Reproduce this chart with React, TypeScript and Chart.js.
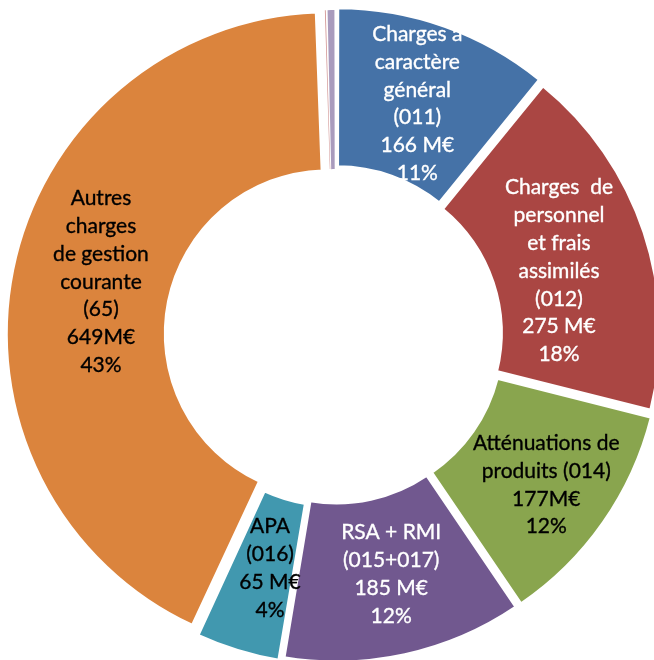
import { useEffect, useRef } from "react";
import { Chart, registerables } from "chart.js";

Chart.register(...registerables);

// ---- Data ----
const categories = [
  "Charges à caractère général (011)",
  "Charges de personnel et frais assimilés (012)",
  "Atténuations de produits (014)",
  "RSA + RMI (015+017)",
  "APA (016)",
  "Autres charges de gestion courante (65)",
  "Divers 1",
  "Divers 2",
  "Divers 3",
  "Divers 4",
];
const amountsMEur = [166, 275, 177, 185, 65, 649, 0.5, 1.5, 0.5, 6];

const labelLines: string[][] = [
  ["Charges à", "caractère", "général", "(011)", "166 M€", "11%"],
  ["Charges  de", "personnel", "et frais", "assimilés", "(012)", "275 M€", "18%"],
  ["Atténuations de", "produits (014)", "177M€", "12%"],
  ["RSA + RMI", "(015+017)", "185 M€", "12%"],
  ["APA", "(016)", "65 M€", "4%"],
  ["Autres", "charges", "de gestion", "courante", "(65)", "649M€", "43%"],
];

// ---- Styles ----
const sliceColors = [
  "#4572A7", "#AA4643", "#89A54E", "#71588F", "#4198AF", "#DB843D",
  "#93A9CF", "#D19392", "#B9CD96", "#A99BBD",
];
const sliceBorders = [3, 3, 3, 3, 3, 3, 0, 0, 0, 0];
// Chart.js translates arcs by offset/4 (x2 for very thin arcs)
const sliceOffsets = [28, 28, 28, 28, 28, 28, 14, 14, 14, 14];
const labelColors = ["#ffffff", "#ffffff", "#000000", "#ffffff", "#000000", "#000000"];
const labelAngleNudgeDeg = [0, 2.4, 0.4, -0.9, -1.6, 1.4];
const labelRadiusNudge = [0, -12.5, 13.5, 0, -3.5, -5.5];
const SHIFT_PX = 7;
const LINE_H = 27.9;

const labelPlugin = {
  id: "sliceLabels",
  afterDatasetsDraw(chart: any) {
    const ctx = chart.ctx;
    const meta = chart.getDatasetMeta(0);
    ctx.save();
    ctx.font = "21px Lato";
    ctx.textAlign = "center";
    ctx.textBaseline = "middle";
    meta.data.forEach((arc: any, i: number) => {
      const lines = labelLines[i];
      if (!lines) return;
      const p = arc.getProps(["x", "y", "startAngle", "endAngle", "innerRadius", "outerRadius"]);
      const mid = (p.startAngle + p.endAngle) / 2 + (labelAngleNudgeDeg[i] * Math.PI) / 180;
      const r = (p.innerRadius + p.outerRadius) / 2 + SHIFT_PX + labelRadiusNudge[i];
      const cx = p.x + Math.cos(mid) * r;
      const cy = p.y + Math.sin(mid) * r;
      ctx.fillStyle = labelColors[i];
      ctx.strokeStyle = labelColors[i];
      ctx.lineWidth = 0.35;
      lines.forEach((t, j) => {
        const ty = cy + (j - (lines.length - 1) / 2) * LINE_H;
        ctx.fillText(t, cx, ty);
        ctx.strokeText(t, cx, ty);
      });
    });
    ctx.restore();
  },
};

export default function App() {
  const ref = useRef<HTMLCanvasElement | null>(null);
  useEffect(() => {
    if (!ref.current) return;
    const chart = new Chart(ref.current, {
      type: "doughnut",
      data: {
        labels: categories,
        datasets: [
          {
            data: amountsMEur,
            backgroundColor: sliceColors,
            borderColor: "#ffffff",
            borderWidth: sliceBorders,
            offset: sliceOffsets,
          },
        ],
      },
      options: {
        animation: false,
        responsive: true,
        maintainAspectRatio: false,
        radius: 318,
        cutout: "50%",
        layout: { padding: 0 },
        plugins: {
          legend: { display: false },
          tooltip: { enabled: false },
        },
      },
      plugins: [labelPlugin],
    });
    return () => chart.destroy();
  }, []);
  return (
    <div
      style={{
        position: "fixed",
        left: 0,
        top: 0,
        width: 670,
        height: 670,
        background: "#ffffff",
      }}
    >
      <canvas ref={ref} />
    </div>
  );
}
